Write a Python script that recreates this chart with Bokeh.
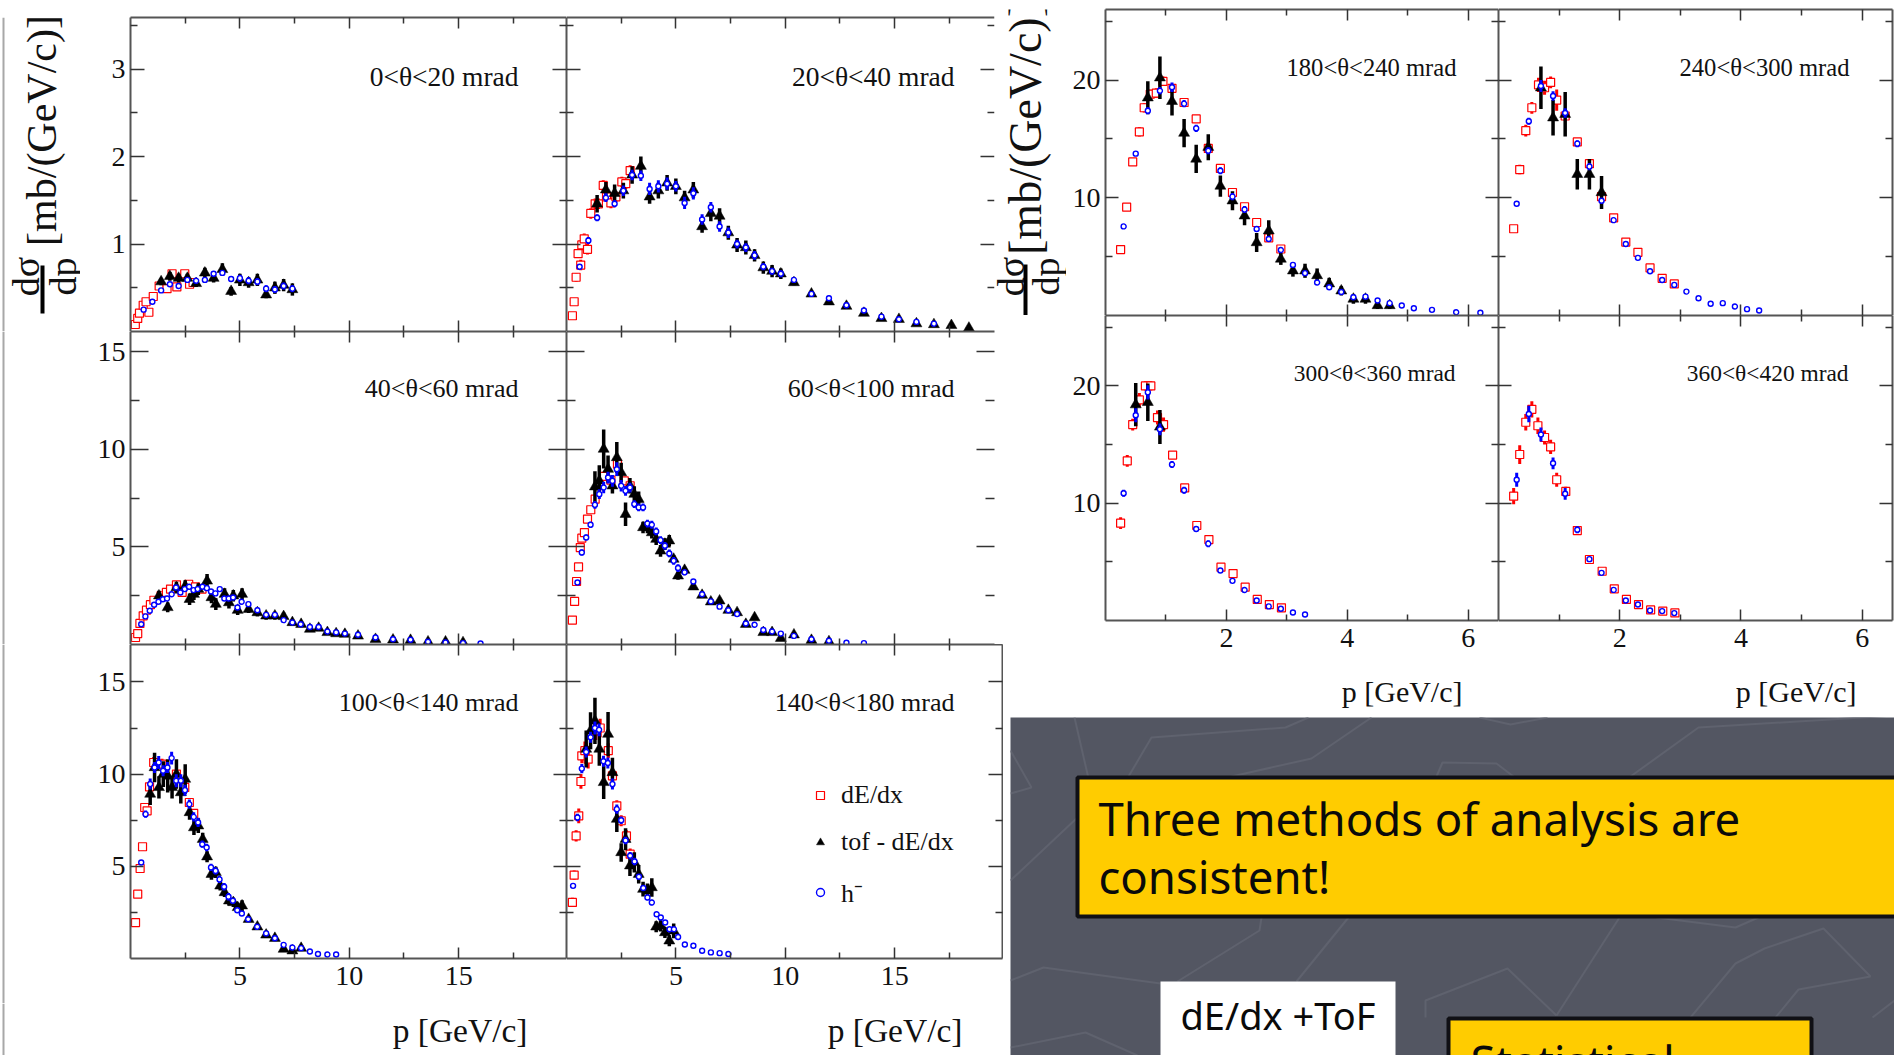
import numpy as np
from bokeh.plotting import figure
from bokeh.layouts import row, column
from bokeh.models import (LinearAxis, FixedTicker, Label, Legend, LegendItem, Range1d, CustomLabelingPolicy)
from bokeh.core.properties import value
from bokeh.embed import file_html
from bokeh.resources import INLINE

SERIF = "Liberation Serif"
SANS = "Noto Sans"
RED, BLACK, BLUE = "#FF0000", "#000000", "#0000FF"
AXIS = "#555555"
TICK = "#333333"

TITLES = ["0<θ<20 mrad", "20<θ<40 mrad", "40<θ<60 mrad", "60<θ<100 mrad", "100<θ<140 mrad",
          "140<θ<180 mrad", "180<θ<240 mrad", "240<θ<300 mrad", "300<θ<360 mrad", "360<θ<420 mrad"]
LEGEND_LABELS = ["dE/dx", "tof - dE/dx", "h⁻"]
XLABEL = "p [GeV/c]"
YLABEL = "[mb/(GeV/c)]"

# ---- 0<theta<20
P1_RED_P = [.22,.33,.41,.58,.71,.84,1.04,1.31,1.67,1.9,2.12,2.48,2.7,2.86]
P1_RED_Y = [.08,.15,.21,.30,.34,.22,.40,.52,.49,.66,.51,.66,.54,.56]
P1_RED_E = [.01,.01,.02,.02,.02,.02,.02,.03,.03,.03,.03,.03,.03,.03]
P1_TOF_P = [1.4,1.8,2.2,2.6,3.0,3.4,3.8,4.2,4.6,5.0,5.4,5.8,6.2,6.6,7.0,7.4]
P1_TOF_Y = [.57,.63,.61,.61,.55,.67,.61,.71,.46,.59,.56,.59,.42,.50,.53,.48]
P1_TOF_E = [.04,.05,.05,.05,.04,.06,.05,.07,.05,.07,.06,.07,.04,.07,.07,.07]
P1_HM_P = [.6,1.0,1.4,1.8,2.2,2.6,3.0,3.4,3.8,4.2,4.6,5.0,5.4,5.8,6.2,6.6,7.0,7.4]
P1_HM_Y = [.25,.34,.47,.54,.52,.59,.58,.59,.66,.67,.60,.61,.58,.57,.49,.48,.52,.49]
P1_HM_E = [.02,.02,.02,.03,.03,.03,.03,.03,.03,.03,.03,.04,.04,.04,.04,.04,.04,.04]
# ---- 20<theta<40
P2_RED_P = [.27,.35,.44,.53,.65,.70,.81,.96,1.11,1.31,1.46,1.68,1.83,2.03,2.26,2.53,2.71,2.91]
P2_RED_Y = [.18,.34,.62,.89,.76,.99,1.06,.94,1.35,1.46,1.46,1.67,1.54,1.47,1.54,1.71,1.69,1.84]
P2_RED_E = [.01,.02,.05,.05,.06,.06,.06,.06,.06,.06,.06,.06,.06,.06,.06,.06,.06,.06]
P2_TOF_P = [1.4,1.8,2.2,2.6,3.0,3.4,3.8,4.2,4.6,5.0,5.4,5.8,6.2,6.6,7.0,7.4,7.8,8.2,8.6,9.0,9.4,9.8,10.4,11.2,12.0,12.8,13.6,14.4,15.2,16.0,16.8,17.6,18.4]
P2_TOF_Y = [1.46,1.62,1.58,1.61,1.79,1.89,1.54,1.61,1.70,1.66,1.53,1.62,1.20,1.35,1.32,1.13,.99,.96,.87,.73,.69,.66,.56,.43,.34,.29,.21,.15,.14,.09,.08,.07,.04]
P2_TOF_E = [.10,.09,.10,.09,.10,.11,.08,.09,.09,.09,.08,.09,.07,.09,.09,.08,.08,.08,.07,.07,.07,.06,.03,.02,.03,.02,.03,.02,.02,.02,.02,.01,.01]
P2_HM_P = [.6,1.0,1.4,1.8,2.2,2.6,3.0,3.4,3.8,4.2,4.6,5.0,5.4,5.8,6.2,6.6,7.0,7.4,7.8,8.2,8.6,9.0,9.4,9.8,10.4,11.2,12.0,12.8,13.6,14.4,15.2,16.0,16.8]
P2_HM_Y = [.74,1.04,1.30,1.53,1.46,1.61,1.79,1.78,1.63,1.66,1.69,1.66,1.47,1.58,1.28,1.42,1.20,1.13,1.0,.96,.87,.74,.69,.66,.59,.43,.38,.30,.24,.17,.14,.11,.09]
P2_HM_E = [.03,.04,.04,.05,.04,.06,.06,.06,.07,.07,.07,.06,.07,.07,.06,.06,.06,.06,.05,.05,.05,.04,.04,.04,.03,.02,.03,.02,.02,.02,.01,.01,.01]
# ---- 40<theta<60
P3_RED_P = [.23,.33,.43,.58,.73,.91,1.07,1.4,1.64,1.83,2.1,2.36,2.66,2.97,3.27]
P3_RED_Y = [.36,.56,1.08,1.47,1.76,2.04,2.27,2.5,2.67,2.84,3.06,2.67,3.09,2.96,2.84]
P3_RED_E = [.05,.05,.08,.1,.1,.1,.1,.12,.12,.12,.12,.12,.12,.12,.12]
P3_TOF_P = [1.3,1.7,2.1,2.5,2.7,2.9,3.1,3.5,3.7,3.9,4.3,4.5,4.7,4.9,5.1,5.4,5.8,6.2,6.6,7.0,7.4,7.8,8.2,8.6,9.0,9.4,9.8,10.4,11.2,12.0,12.8,13.6,14.4,15.2]
P3_TOF_Y = [2.5,1.9,2.92,3.0,2.32,2.58,2.84,3.26,2.41,2.07,2.58,2.15,2.5,1.76,2.58,1.81,1.64,1.47,1.47,1.44,1.13,1.04,.79,.84,.62,.56,.53,.44,.27,.24,.22,.14,.14,.10]
P3_TOF_E = [.25,.25,.3,.3,.3,.3,.3,.35,.3,.3,.3,.3,.3,.25,.3,.2,.2,.2,.2,.2,.15,.15,.15,.15,.1,.1,.1,.1,.1,.1,.08,.08,.08,.08]
P3_HM_P = [.49,.68,.88,1.08,1.28,1.48,1.67,1.88,2.08,2.28,2.48,2.68,2.88,3.07,3.29,3.49,3.68,3.88,4.08,4.29,4.49,4.69,4.89,5.08,5.39,5.8,6.2,6.6,7.0,7.4,7.78,8.2,8.6,9.0,9.4,9.8,10.4,11.2,12.0,12.8,13.6,14.4,15.2,16.0]
P3_HM_Y = [1.04,1.44,1.73,2.04,2.19,2.32,2.36,2.58,2.92,2.67,2.84,2.96,2.79,2.84,2.96,2.89,2.72,2.62,2.84,2.36,2.36,2.41,1.90,2.19,2.07,1.76,1.52,1.52,1.25,1.13,1.04,.90,.90,.67,.62,.56,.50,.36,.27,.24,.14,.10,.07,.05]
P3_HM_E = [.1,.1,.1,.1,.1,.12,.12,.12,.12,.12,.12,.12,.12,.12,.12,.12,.12,.12,.12,.12,.12,.12,.12,.12,.12,.12,.12,.12,.1,.1,.1,.08,.08,.08,.08,.08,.08,.08,.08,.05,.05,.05,.05,.03]
# ---- 60<theta<100
P4_RED_P = [.27,.37,.46,.55,.63,.70,.82,.96,1.11,1.31,1.49,1.72,2.03,2.33,2.64,2.91]
P4_RED_Y = [1.25,2.21,3.23,3.98,4.97,5.45,5.74,6.43,6.91,7.45,8.14,8.62,8.43,9.25,8.39,8.14]
P4_RED_E = [.05,.08,.1,.1,.12,.12,.12,.15,.15,.15,.15,.15,.2,.2,.2,.2]
P4_TOF_P = [1.3,1.5,1.7,1.9,2.1,2.3,2.5,2.7,2.9,3.1,3.3,3.5,3.7,3.9,4.1,4.3,4.5,4.7,4.9,5.1,5.4,5.8,6.2,6.6,7.0,7.4,7.8,8.2,8.6,9.0,9.4,9.8,10.4,11.2,12.0]
P4_TOF_Y = [8.09,8.39,10.02,8.99,8.14,9.59,8.82,6.68,8.14,7.71,7.45,6.0,6.0,5.74,5.40,4.80,5.15,5.32,4.38,3.52,3.81,2.96,2.53,2.19,2.24,1.76,1.64,1.04,1.38,.62,.62,.32,.50,.22,.15]
P4_TOF_E = [.8,.8,1.0,.7,.4,.8,.5,.6,.4,.4,.4,.3,.3,.3,.3,.3,.3,.3,.2,.2,.15,.15,.15,.1,.1,.1,.1,.1,.1,.1,.1,.1,.1,.1,.08]
P4_HM_P = [.5,.7,.9,1.1,1.3,1.5,1.7,1.9,2.1,2.3,2.5,2.7,2.9,3.1,3.3,3.5,3.7,3.9,4.1,4.3,4.5,4.7,4.9,5.1,5.4,5.8,6.2,6.6,7.0,7.4,7.8,8.2,8.6,9.0,9.4,9.8,10.4,11.2,12.0,12.8,13.6]
P4_HM_Y = [3.18,4.72,5.49,6.14,7.16,7.71,8.05,8.56,8.39,8.99,8.14,7.88,8.05,7.2,7.03,7.03,6.2,6.14,5.8,5.35,5.06,4.67,4.29,3.92,3.7,3.23,2.58,2.21,1.94,1.76,1.56,1.08,1.01,.74,.67,.56,.44,.27,.19,.09,.07]
P4_HM_E = [.1,.15,.15,.15,.2,.25,.3,.3,.3,.35,.3,.25,.25,.2,.2,.2,.2,.2,.2,.2,.2,.2,.2,.2,.15,.12,.12,.1,.1,.1,.1,.1,.08,.08,.08,.08,.06,.06,.05,.04,.04]
# ---- 100<theta<140
P5_RED_P = [.23,.33,.44,.55,.65,.76,.87,1.06,1.44,2.1,2.48,2.69,2.89]
P5_RED_Y = [1.95,3.49,4.88,6.06,8.19,8.01,9.31,10.63,10.54,10.0,9.28,8.46,7.87]
P5_RED_E = [.05,.15,.15,.2,.2,.2,.3,.3,.3,.3,.25,.2,.2]
P5_TOF_P = [.9,1.1,1.3,1.5,1.7,1.9,2.1,2.3,2.5,2.7,2.9,3.1,3.3,3.5,3.7,3.9,4.1,4.3,4.5,4.7,4.9,5.1,5.4,5.8,6.2,6.6,7.0,7.4,7.8]
P5_TOF_Y = [8.92,10.36,9.28,10.0,9.9,9.28,10.0,9.0,9.73,7.92,7.1,7.2,6.47,5.52,4.57,4.67,3.94,3.58,3.13,3.04,2.77,2.86,2.13,1.72,1.28,1.1,.51,.42,.56]
P5_TOF_E = [.6,.8,.6,.7,.9,.6,.8,.6,.8,.4,.4,.4,.35,.3,.3,.3,.25,.25,.25,.25,.25,.3,.15,.15,.15,.1,.1,.1,.1]
P5_HM_P = [.49,.69,.9,1.1,1.29,1.49,1.69,1.88,2.09,2.3,2.49,2.69,2.89,3.09,3.28,3.48,3.68,3.89,4.07,4.28,4.48,4.68,4.88,5.09,5.38,5.79,6.2,6.6,7.0,7.4,7.8,8.2,8.57,9.0,9.4]
P5_HM_Y = [5.21,7.83,9.46,10.36,10.63,10.18,10.36,10.87,9.64,9.64,9.13,8.37,7.68,7.38,6.2,6.02,4.94,4.75,4.29,3.89,3.35,3.13,2.62,2.44,2.13,1.72,1.36,1.1,.74,.6,.56,.38,.24,.22,.22]
P5_HM_E = [.1,.2,.3,.3,.35,.3,.3,.35,.35,.35,.3,.25,.25,.25,.2,.2,.2,.2,.2,.2,.2,.15,.15,.1,.1,.1,.1,.08,.08,.08,.08,.05,.05,.05,.05]
# ---- 140<theta<180
P6_RED_P = [.27,.35,.44,.56,.66,.7,.84,.99,1.34,1.54,1.91,2.1,2.3,2.5,2.74,2.91]
P6_RED_Y = [3.04,4.52,6.65,7.74,9.6,10.99,11.27,10.81,12.35,12.5,11.27,9.91,8.28,7.47,6.65,5.66]
P6_RED_E = [.25,.25,.3,.4,.4,.4,.5,.5,.5,.5,.4,.4,.3,.3,.3,.3]
P6_TOF_P = [.9,1.1,1.3,1.5,1.7,1.9,2.1,2.3,2.5,2.7,2.9,3.1,3.3,3.5,3.7,3.9,4.1,4.3,4.5,4.7,4.9]
P6_TOF_Y = [11.36,12.35,12.89,11.36,9.55,12.17,10.09,7.56,5.75,6.47,5.03,5.21,4.57,3.76,3.67,3.85,1.72,1.77,1.41,.96,1.5]
P6_TOF_E = [1.0,1.0,1.25,.9,.9,1.2,.8,.7,.5,.6,.55,.55,.5,.4,.4,.5,.3,.3,.3,.3,.4]
P6_HM_P = [.3,.5,.7,.9,1.1,1.3,1.49,1.69,1.89,2.1,2.3,2.5,2.7,2.91,3.11,3.31,3.51,3.7,3.9,4.12,4.31,4.51,4.71,4.91,5.1,5.41,5.8,6.2,6.6,7.0,7.4]
P6_HM_Y = [3.94,7.65,10.3,11.2,12.0,12.5,12.4,10.7,10.6,9.46,8.1,7.5,6.4,5.57,5.26,4.43,3.82,3.31,3.04,2.4,2.22,1.95,1.59,1.59,1.17,.76,.69,.42,.33,.29,.24]
P6_HM_E = [.12,.2,.25,.3,.3,.35,.35,.3,.3,.3,.25,.2,.2,.2,.2,.15,.15,.15,.15,.12,.12,.1,.1,.1,.08,.05,.05,.05,.05,.05,.05]
# ---- 180<theta<240
P7_RED_P = [.25,.35,.45,.56,.64,.74,.84,.95,1.1,1.3,1.5,1.7,1.9,2.1,2.3,2.5,2.7,2.9]
P7_RED_Y = [5.6,9.2,13.05,15.6,17.65,18.8,18.9,19.9,19.3,18.1,16.7,14.2,12.5,10.45,9.24,7.9,6.6,5.65]
P7_RED_E = [.15,.2,.3,.4,.4,.4,.4,.4,.3,.3,.3,.3,.2,.2,.2,.2,.2,.2]
P7_TOF_P = [.7,.9,1.1,1.3,1.5,1.7,1.9,2.1,2.3,2.5,2.7,2.9,3.1,3.3,3.5,3.7,3.9,4.1,4.3,4.5,4.7]
P7_TOF_Y = [18.5,20.2,18.2,15.5,13.3,14.3,11.0,9.75,8.47,6.2,7.2,4.8,3.8,3.8,3.4,2.7,2.1,1.4,1.4,.85,.85]
P7_TOF_E = [1.4,1.8,1.2,1.2,1.2,1.1,.9,.8,.8,.8,.9,.5,.5,.6,.6,.5,.4,.4,.4,.3,.3]
P7_HM_P = [.3,.5,.7,.9,1.1,1.3,1.5,1.7,1.9,2.1,2.3,2.5,2.7,2.9,3.1,3.3,3.5,3.7,3.9,4.1,4.3,4.5,4.7,4.9,5.1,5.4,5.8,6.2]
P7_HM_Y = [7.57,13.75,17.4,19.1,19.4,18.0,15.9,14.0,12.3,10.1,9.0,7.35,6.5,5.56,4.3,3.6,2.8,2.4,2.0,1.55,1.6,1.27,1.05,.85,.62,.48,.28,.23]
P7_HM_E = [.1,.2,.3,.3,.4,.3,.3,.3,.3,.3,.3,.2,.2,.2,.2,.2,.15,.15,.15,.15,.15,.1,.1,.1,.05,.05,.05,.05]
# ---- 240<theta<300
P8_RED_P = [.25,.35,.45,.55,.66,.76,.86,.96,1.1,1.3,1.5,1.7,1.9,2.1,2.3,2.5,2.7,2.9]
P8_RED_Y = [7.37,12.4,15.7,17.65,19.6,19.35,19.8,18.3,16.95,14.75,12.9,10.1,8.3,6.24,5.37,4.04,3.16,2.68]
P8_RED_E = [.15,.4,.5,.5,.6,.6,.5,.9,.4,.3,.3,.3,.2,.2,.15,.1,.1,.1]
P8_TOF_P = [.7,.9,1.1,1.3,1.5,1.7]
P8_TOF_Y = [19.35,16.8,17.1,12.0,12.0,10.45]
P8_TOF_E = [1.8,1.5,1.9,1.3,1.3,1.4]
P8_HM_P = [.3,.5,.7,.9,1.1,1.3,1.5,1.7,1.9,2.1,2.3,2.5,2.7,2.9,3.1,3.3,3.5,3.7,3.9,4.1,4.3]
P8_HM_Y = [9.5,16.5,19.5,18.65,17.2,14.6,12.65,9.75,8.1,6.07,4.9,3.76,3.02,2.6,2.03,1.47,1.0,1.05,.76,.54,.42]
P8_HM_E = [.1,.3,.5,.4,.4,.3,.3,.2,.2,.15,.1,.1,.1,.1,.05,.05,.05,.05,.05,.05,.05]
# ---- 300<theta<360
P9_RED_P = [.25,.36,.45,.56,.66,.75,.86,.96,1.11,1.31,1.51,1.71,1.91,2.11,2.31,2.51,2.71,2.91]
P9_RED_Y = [8.3,13.6,16.7,18.8,20.0,20.0,17.3,16.7,14.1,11.3,8.1,6.9,4.55,4.0,2.84,1.8,1.36,1.08]
P9_RED_E = [.5,.5,.5,.6,.4,.4,.6,.6,.2,.2,.2,.2,.1,.1,.1,.1,.1,.1]
P9_TOF_P = [.5,.7,.9]
P9_TOF_Y = [18.4,18.6,16.5]
P9_TOF_E = [1.85,1.6,1.45]
P9_HM_P = [.3,.5,.7,.9,1.1,1.3,1.5,1.7,1.9,2.1,2.3,2.5,2.7,2.9,3.1,3.3]
P9_HM_Y = [10.85,17.5,19.45,16.3,13.3,11.1,7.8,6.55,4.26,3.38,2.6,1.7,1.2,1.0,.68,.51]
P9_HM_E = [.3,.6,.6,.5,.3,.3,.2,.3,.15,.15,.15,.1,.1,.1,.05,.05]
# ---- 360<theta<420
P10_RED_P = [.25,.35,.45,.55,.65,.76,.86,.96,1.11,1.3,1.5,1.71,1.91,2.11,2.31,2.51,2.71,2.91]
P10_RED_Y = [10.6,14.15,16.9,18.0,16.6,15.6,14.8,12.0,11.0,7.67,5.2,4.2,2.7,1.8,1.36,.9,.8,.65]
P10_RED_E = [.7,.8,.7,.7,.7,.6,.6,.6,.4,.2,.2,.2,.1,.1,.1,.1,.1,.1]
P10_HM_P = [.3,.5,.7,.9,1.1,1.3,1.5,1.7,1.9,2.1,2.3,2.5,2.7,2.9]
P10_HM_Y = [12.0,17.6,15.85,13.4,10.8,7.73,5.23,4.06,2.61,1.7,1.36,.85,.8,.63]
P10_HM_E = [.6,.7,.6,.5,.5,.3,.2,.2,.1,.1,.1,.1,.1,.1]

# decoration of the slide, in slide pixels
SLIDE_LINES = [
    [(1074,717),(1088,778)], [(1128,776),(1151,737),(1285,727),(1308,717)],
    [(1231,776),(1311,758),(1371,717)], [(1630,776),(1698,727),(1894,715)],
    [(1436,776),(1442,762),(1496,763),(1513,776)], [(1010,880),(1077,817)],
    [(1010,750),(1031,787),(1010,793)], [(1177,981),(1259,930),(1261,917)],
    [(1296,981),(1348,917)], [(1010,980),(1043,967),(1160,983)],
    [(1556,1015),(1619,917)], [(1425,1017),(1425,1000),(1507,968),(1556,1015)],
    [(1656,917),(1735,927),(1758,917)], [(1690,1017),(1735,963),(1764,948),(1823,928),(1870,976),(1798,989),(1775,1017)],
    [(1010,1047),(1085,1032),(1137,1055)], [(1479,717),(1510,724),(1547,717)], [(1872,1017),(1894,1000)],
]

PANEL_DATA = {
    1: (P1_RED_P,P1_RED_Y,P1_RED_E,P1_TOF_P,P1_TOF_Y,P1_TOF_E,P1_HM_P,P1_HM_Y,P1_HM_E),
    2: (P2_RED_P,P2_RED_Y,P2_RED_E,P2_TOF_P,P2_TOF_Y,P2_TOF_E,P2_HM_P,P2_HM_Y,P2_HM_E),
    3: (P3_RED_P,P3_RED_Y,P3_RED_E,P3_TOF_P,P3_TOF_Y,P3_TOF_E,P3_HM_P,P3_HM_Y,P3_HM_E),
    4: (P4_RED_P,P4_RED_Y,P4_RED_E,P4_TOF_P,P4_TOF_Y,P4_TOF_E,P4_HM_P,P4_HM_Y,P4_HM_E),
    5: (P5_RED_P,P5_RED_Y,P5_RED_E,P5_TOF_P,P5_TOF_Y,P5_TOF_E,P5_HM_P,P5_HM_Y,P5_HM_E),
    6: (P6_RED_P,P6_RED_Y,P6_RED_E,P6_TOF_P,P6_TOF_Y,P6_TOF_E,P6_HM_P,P6_HM_Y,P6_HM_E),
    7: (P7_RED_P,P7_RED_Y,P7_RED_E,P7_TOF_P,P7_TOF_Y,P7_TOF_E,P7_HM_P,P7_HM_Y,P7_HM_E),
    8: (P8_RED_P,P8_RED_Y,P8_RED_E,P8_TOF_P,P8_TOF_Y,P8_TOF_E,P8_HM_P,P8_HM_Y,P8_HM_E),
    9: (P9_RED_P,P9_RED_Y,P9_RED_E,P9_TOF_P,P9_TOF_Y,P9_TOF_E,P9_HM_P,P9_HM_Y,P9_HM_E),
    10: (P10_RED_P,P10_RED_Y,P10_RED_E,[],[],[],P10_HM_P,P10_HM_Y,P10_HM_E),
}

NO_LABELS = "return []"

def style_axis(ax, ticker, major, minor, labels, size, standoff, draw_line=True):
    ax.ticker = ticker
    ax.major_tick_in = major
    ax.major_tick_out = 0
    ax.minor_tick_in = minor
    ax.minor_tick_out = 0
    ax.axis_line_color = AXIS if draw_line else None
    ax.axis_line_width = 2
    ax.major_tick_line_color = TICK
    ax.major_tick_line_width = 1.5
    ax.minor_tick_line_color = TICK
    ax.minor_tick_line_width = 1.5
    ax.major_label_standoff = standoff if labels else 0
    ax.major_label_text_font = SERIF
    ax.major_label_text_color = "#111111"
    ax.major_label_text_font_size = size if labels else "0px"
    if not labels:
        ax.major_label_policy = CustomLabelingPolicy(code=NO_LABELS)

class Geo:
    def __init__(s, fx0, fy0, fw, fh, xmax, ymax):
        s.fx0, s.fy0, s.fw, s.fh, s.xmax, s.ymax = fx0, fy0, fw, fh, xmax, ymax
    def x(s, px): return (px - s.fx0) / s.fw * s.xmax
    def y(s, py): return (s.fy0 + s.fh - py) / s.fh * s.ymax

def panel(n, page_left, page_top, page_right, page_bottom, fx0, fy0, fw, fh, xmax, ymax,
          xticks, xminor, yticks, yminor, xlab, ylab, xtick_len, ytick_len, right_line=True,
          title_right=0, title_center=0, title_size=26, label_size=28):
    p = figure(width=page_right-page_left, height=page_bottom-page_top,
               frame_width=fw, frame_height=fh,
               x_range=Range1d(0, xmax), y_range=Range1d(0, ymax),
               output_backend="svg", toolbar_location=None, tools="",
               min_border_left=fx0-page_left, min_border_right=page_right-fx0-fw,
               min_border_top=fy0-page_top, min_border_bottom=page_bottom-fy0-fh,
               background_fill_color="white", border_fill_color="white",
               outline_line_color=None, margin=0)
    p.grid.visible = False
    xt = FixedTicker(ticks=xticks, minor_ticks=xminor)
    yt = FixedTicker(ticks=yticks, minor_ticks=yminor)
    style_axis(p.xaxis[0], xt, xtick_len[0], xtick_len[1], xlab, f"{label_size}px", 8)
    style_axis(p.yaxis[0], yt, ytick_len[0], ytick_len[1], ylab, f"{label_size}px", 5)
    top = LinearAxis(); style_axis(top, xt, xtick_len[0], xtick_len[1], False, "0px", 0)
    right = LinearAxis(); style_axis(right, yt, ytick_len[0], ytick_len[1], False, "0px", 0, draw_line=right_line)
    p.add_layout(top, "above")
    p.add_layout(right, "right")

    rp, ry, re, tp, ty, te, hp, hy, he = map(lambda a: np.array(a, dtype=float), PANEL_DATA[n])
    assert len(rp)==len(ry)==len(re) and len(tp)==len(ty)==len(te) and len(hp)==len(hy)==len(he), n
    p.segment(rp, ry-re, rp, ry+re, line_color=RED, line_width=3)
    r_red = p.scatter(rp, ry, marker="square", size=8, fill_color="white", line_color=RED, line_width=1.2)
    p.segment(tp, ty-te, tp, ty+te, line_color=BLACK, line_width=3.5)
    r_tof = p.scatter(tp, ty, marker="triangle", size=11, fill_color=BLACK, line_color=BLACK, line_width=0.5)
    p.segment(hp, hy-he, hp, hy+he, line_color=BLUE, line_width=3)
    r_hm = p.scatter(hp, hy, marker="circle", size=5, fill_color="white", line_color=BLUE, line_width=1.4)

    g = Geo(fx0, fy0, fw, fh, xmax, ymax)
    p.add_layout(Label(x=g.x(title_right), y=g.y(title_center), text=TITLES[n-1], text_align="right",
                       text_baseline="middle", text_font=SERIF, text_font_size=f"{title_size}px", text_color="#111111"))
    return p, g, (r_red, r_tof, r_hm)

def strip(x0, x1, y0, y1, margin=0, fill="white"):
    """blank figure whose data coordinates are the page's own pixels: room for outer labels"""
    f = figure(width=x1-x0, height=y1-y0, frame_width=x1-x0, frame_height=y1-y0,
               x_range=Range1d(x0, x1), y_range=Range1d(y1, y0),
               output_backend="svg", toolbar_location=None, tools="",
               min_border_left=0, min_border_right=0, min_border_top=0, min_border_bottom=0,
               background_fill_color=fill, border_fill_color="white", outline_line_color=None,
               margin=(0, 0, 0, margin))
    f.grid.visible = False
    f.axis.visible = False
    return f

def rot(f, x, y, text, size):
    f.text([x], [y], [text], angle=np.pi/2, text_align="center", text_baseline="middle",
           text_font=value(SERIF), text_font_size=size, text_color="#111111")

def xlab_text(f, right, center, size):
    f.text([right], [center], [XLABEL], text_align="right", text_baseline="middle",
           text_font=value(SERIF), text_font_size=size, text_color="#111111")

LEFT_X = dict(xticks=[5,10,15], xminor=[2.5,7.5,12.5,17.5])
LX = 19.93
maj_top = (11, 6)
L = 80
p1, g1, _ = panel(1, L, 0, 566, 331, 130, 17, 436, 314, LX, 3.59, yticks=[1,2,3], yminor=[.5,1.5,2.5,3.5],
                  xlab=False, ylab=True, xtick_len=maj_top, ytick_len=(14,7), title_right=518, title_center=76, title_size=27.5, **LEFT_X)
p2, g2, _ = panel(2, 566, 0, 1003, 331, 566, 17, 428, 314, 19.57, 3.59, yticks=[1,2,3], yminor=[.5,1.5,2.5,3.5],
                  xlab=False, ylab=False, xtick_len=maj_top, ytick_len=(14,7), right_line=False, title_right=954, title_center=76, title_size=27.5, **LEFT_X)
p3, g3, _ = panel(3, L, 331, 566, 644, 130, 331, 436, 313, LX, 16.05, yticks=[5,10,15], yminor=[2.5,7.5,12.5],
                  xlab=False, ylab=True, xtick_len=maj_top, ytick_len=(18,9), title_right=518, title_center=388, **LEFT_X)
p4, g4, _ = panel(4, 566, 331, 1003, 644, 566, 331, 428, 313, 19.57, 16.05, yticks=[5,10,15], yminor=[2.5,7.5,12.5],
                  xlab=False, ylab=False, xtick_len=maj_top, ytick_len=(18,9), right_line=False, title_right=954, title_center=388, **LEFT_X)
p5, g5, _ = panel(5, L, 644, 566, 1003, 130, 644, 436, 314, LX, 17.03, yticks=[5,10,15], yminor=[2.5,7.5,12.5],
                  xlab=True, ylab=True, xtick_len=maj_top, ytick_len=(13,7), title_right=518, title_center=702, **LEFT_X)
p6, g6, rs6 = panel(6, 566, 644, 1003, 1003, 566, 644, 436, 314, LX, 17.03, yticks=[5,10,15], yminor=[2.5,7.5,12.5],
                  xlab=True, ylab=False, xtick_len=maj_top, ytick_len=(14,7), title_right=954, title_center=702, **LEFT_X)

GRAY_EDGE = "#A8A8A8"
lab1 = strip(0, L, 0, 331)
lab3 = strip(0, L, 331, 644)
lab5 = strip(0, L, 644, 1003)
for f, y0, y1 in ((lab1, 0, 331), (lab3, 331, 644), (lab5, 644, 1003)):
    f.quad(left=[2], right=[4], top=[y0], bottom=[y1], fill_color=GRAY_EDGE, line_color=None)
rot(lab1, 41, 113, YLABEL, "42px")
rot(lab1, 25, 259, "dσ", "38px")
rot(lab1, 62, 259, "dp", "38px")
lab1.quad(left=[40], right=[44], top=[248], bottom=[296], fill_color="black", line_color=None)

bottom_left = strip(0, 1003, 1003, 1055)
bottom_left.quad(left=[2], right=[4], top=[1003], bottom=[1055], fill_color=GRAY_EDGE, line_color=None)
xlab_text(bottom_left, 527, 1030, "33.5px")
xlab_text(bottom_left, 962, 1030, "33.5px")

legend = Legend(items=[LegendItem(label=value(t), renderers=[r]) for t, r in zip(LEGEND_LABELS, rs6)],
                location=(244, 48), orientation="vertical", border_line_color=None, background_fill_alpha=0,
                glyph_width=20, glyph_height=20, label_height=20, spacing=17, padding=0, margin=0, label_standoff=11,
                label_text_font=SERIF, label_text_font_size="26px", label_text_color="#111111")
p6.add_layout(legend)

RIGHT_X = dict(xticks=[2,4,6], xminor=[1,3,5], yticks=[10,20], yminor=[5,15,25], xmax=6.5, ymax=26, xtick_len=(11,6), ytick_len=(13,7))
R = 1066
p7, g7, _ = panel(7, R, 0, 1498, 315, 1105, 9, 393, 306, xlab=False, ylab=True, title_right=1456, title_center=67,
                  title_size=24.6, **RIGHT_X)
p8, g8, _ = panel(8, 1498, 0, 1894, 315, 1498, 9, 394, 306, xlab=False, ylab=False, title_right=1849, title_center=67,
                  title_size=24.6, **RIGHT_X)
p9, g9, _ = panel(9, 1003, 315, 1498, 664, 1105, 315, 393, 305, xlab=True, ylab=True, title_right=1455, title_center=372,
                  title_size=23.4, **RIGHT_X)
p10, g10, _ = panel(10, 1498, 315, 1894, 664, 1498, 315, 394, 305, xlab=True, ylab=False, title_right=1848, title_center=372,
                  title_size=23.4, **RIGHT_X)
lab7 = strip(994, R, 0, 315, margin=-9)
rot(lab7, 1025, 119, YLABEL, "46px")
rot(lab7, 1010, 267, "dσ", "38px")
rot(lab7, 1045, 267, "dp", "38px")
lab7.quad(left=[1023], right=[1027], top=[255], bottom=[306], fill_color="black", line_color=None)

bottom_right = strip(1003, 1894, 664, 717)
xlab_text(bottom_right, 1455, 691, "30px")
xlab_text(bottom_right, 1849, 691, "30px")

# slide
s = figure(width=891, height=338, frame_width=884, frame_height=338,
           x_range=Range1d(1010, 1894), y_range=Range1d(1055, 717),
           output_backend="svg", toolbar_location=None, tools="",
           min_border_left=7, min_border_right=0, min_border_top=0, min_border_bottom=0,
           background_fill_color="#535662", border_fill_color="white", outline_line_color=None, margin=0)
s.grid.visible = False
s.axis.visible = False
s.multi_line([[a for a, _ in l] for l in SLIDE_LINES], [[b for _, b in l] for l in SLIDE_LINES],
             line_color="#5F626E", line_width=2)
s.quad(left=[1077], right=[1900], top=[777], bottom=[916], fill_color="#FFCC00", line_color="#101015", line_width=4)
s.quad(left=[1160], right=[1395], top=[981], bottom=[1060], fill_color="white", line_color=None)
s.quad(left=[1448], right=[1811], top=[1018], bottom=[1060], fill_color="#FFCC00", line_color="#101015", line_width=4)
sans = value(SANS)
s.text([1098], [817], ["Three methods of analysis are"], text_font=sans, text_font_size="45.5px", text_color="#0a0a0a", text_baseline="middle")
s.text([1098], [875], ["consistent!"], text_font=sans, text_font_size="45.5px", text_color="#0a0a0a", text_baseline="middle")
s.text([1180], [1014], ["dE/dx +ToF"], text_font=sans, text_font_size="38px", text_color="#0a0a0a", text_baseline="middle")
s.text([1470], [1060], ["Statistical"], text_font=sans, text_font_size="45.5px", text_color="#0a0a0a", text_baseline="middle")

left_col = column(row(lab1, p1, p2, spacing=0), row(lab3, p3, p4, spacing=0), row(lab5, p5, p6, spacing=0),
                  bottom_left, spacing=0, margin=0)
right_col = column(row(lab7, p7, p8, spacing=0, margin=0), row(p9, p10, spacing=0, margin=0), bottom_right, s, spacing=0, margin=0)
page = row(left_col, right_col, spacing=0, margin=0)
open("out.html", "w").write(file_html(page, INLINE))
